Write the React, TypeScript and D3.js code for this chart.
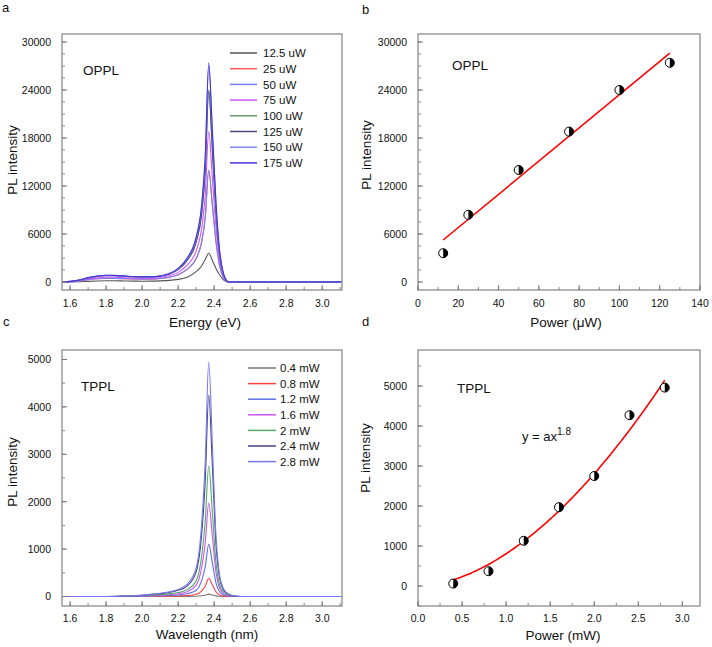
import React from 'react';
import * as d3 from 'd3';

// ---------- DATA ----------
// Panel a: OPPL spectra (energy grid in eV, intensity)
const ENERGY_A = [1.555, 1.6, 1.65, 1.7, 1.75, 1.8, 1.85, 1.9, 1.95, 2.0, 2.05, 2.1, 2.15, 2.2, 2.25, 2.3, 2.33, 2.35, 2.37, 2.39, 2.41, 2.43, 2.45, 2.47, 2.48, 3.11];
const OPPL_12_5 = [0, 10, 40, 80, 120, 150, 150, 130, 110, 100, 110, 140, 200, 330, 600, 1300, 2000, 2800, 3600, 2700, 1700, 900, 300, 40, 0, 0];
const OPPL_25 = [0, 40, 130, 290, 400, 450, 440, 410, 370, 350, 360, 430, 580, 900, 1570, 2900, 4900, 7900, 13900, 9600, 5050, 2030, 610, 80, 0, 0];
const OPPL_50 = [0, 40, 130, 290, 400, 460, 450, 420, 380, 360, 370, 440, 590, 920, 1600, 2950, 5000, 8000, 14000, 9700, 5100, 2050, 620, 80, 0, 0];
const OPPL_75 = [0, 50, 170, 380, 520, 600, 590, 540, 490, 470, 490, 570, 770, 1200, 2100, 3900, 6600, 10700, 18800, 13000, 6900, 2750, 820, 100, 0, 0];
const OPPL_100 = [0, 70, 230, 520, 720, 820, 800, 730, 660, 620, 630, 730, 990, 1560, 2720, 5020, 8450, 13800, 23900, 16500, 8700, 3450, 1040, 130, 0, 0];
const OPPL_125 = [0, 70, 220, 500, 700, 800, 780, 720, 650, 610, 620, 720, 980, 1550, 2700, 5000, 8400, 13700, 24000, 16600, 8800, 3500, 1050, 130, 0, 0];
const OPPL_150 = [0, 80, 240, 530, 730, 830, 810, 740, 660, 620, 630, 740, 1020, 1650, 2900, 5450, 9300, 15200, 27000, 18700, 9800, 3900, 1150, 140, 0, 0];
const OPPL_175 = [0, 80, 250, 550, 750, 850, 830, 760, 680, 640, 650, 760, 1050, 1700, 3000, 5600, 9500, 15500, 27400, 19000, 10000, 4000, 1200, 150, 0, 0];
const OPPL_LABELS = ['12.5 uW', '25 uW', '50 uW', '75 uW', '100 uW', '125 uW', '150 uW', '175 uW'];
const OPPL_SPECTRA = [OPPL_12_5, OPPL_25, OPPL_50, OPPL_75, OPPL_100, OPPL_125, OPPL_150, OPPL_175];

// Panel b: OPPL peak intensity vs power
const B_POWER = [12.5, 25, 50, 75, 100, 125];
const B_INTENSITY = [3600, 8400, 14000, 18800, 24000, 27400];
const B_FIT_X = [12.5, 125];
const B_FIT_Y = [5250, 28600];

// Panel c: TPPL spectra
const ENERGY_C = [1.555, 1.8, 1.9, 2.0, 2.05, 2.1, 2.15, 2.2, 2.25, 2.3, 2.33, 2.35, 2.37, 2.39, 2.41, 2.43, 2.45, 2.47, 2.5, 2.55, 3.11];
const TPPL_0_4 = [0, 0, 0, 0, 1, 1, 1, 2, 3, 6, 15, 28, 50, 32, 13, 5, 2, 1, 0, 0, 0];
const TPPL_0_8 = [0, 0, 1, 2, 4, 5, 8, 12, 20, 46, 115, 215, 380, 245, 100, 35, 14, 6, 2, 0, 0];
const TPPL_1_2 = [0, 0, 2, 7, 11, 16, 22, 33, 58, 133, 330, 620, 1100, 710, 290, 100, 40, 18, 4, 0, 0];
const TPPL_1_6 = [0, 0, 4, 12, 20, 28, 40, 60, 103, 240, 600, 1110, 1970, 1270, 520, 180, 72, 32, 8, 0, 0];
const TPPL_2_0 = [0, 0, 5, 17, 28, 39, 56, 83, 145, 330, 830, 1560, 2750, 1780, 720, 250, 100, 45, 11, 0, 0];
const TPPL_2_4 = [0, 0, 8, 25, 42, 60, 86, 130, 220, 520, 1290, 2400, 4250, 2750, 1120, 390, 155, 70, 17, 0, 0];
const TPPL_2_8 = [0, 0, 10, 30, 50, 70, 100, 150, 260, 600, 1500, 2800, 4950, 3200, 1300, 450, 180, 80, 20, 0, 0];
const TPPL_LABELS = ['0.4 mW', '0.8 mW', '1.2 mW', '1.6 mW', '2 mW', '2.4 mW', '2.8 mW'];
const TPPL_SPECTRA = [TPPL_0_4, TPPL_0_8, TPPL_1_2, TPPL_1_6, TPPL_2_0, TPPL_2_4, TPPL_2_8];

// Panel d: TPPL peak intensity vs power, power-law fit y = a x^1.8
const D_POWER = [0.4, 0.8, 1.2, 1.6, 2.0, 2.4, 2.8];
const D_INTENSITY = [60, 370, 1130, 1970, 2750, 4270, 4960];
const D_FIT_A = 806;
const D_FIT_EXP = 1.8;
const D_FIT_RANGE = [0.4, 2.8];

// Tick labels
const ENERGY_TICKS = [1.6, 1.8, 2.0, 2.2, 2.4, 2.6, 2.8, 3.0];
const OPPL_Y_TICKS = [0, 6000, 12000, 18000, 24000, 30000];
const B_X_TICKS = [0, 20, 40, 60, 80, 100, 120, 140];
const TPPL_Y_TICKS = [0, 1000, 2000, 3000, 4000, 5000];
const D_X_TICKS = [0.0, 0.5, 1.0, 1.5, 2.0, 2.5, 3.0];

// ---------- STYLE ----------
const FONT = '"Liberation Sans", Arial, Helvetica, sans-serif';
const OPPL_COLORS = ['#555555', '#ff5a5a', '#7080ff', '#cc55ff', '#6a9a6a', '#4a4a80', '#8585ee', '#4433dd'];
const TPPL_COLORS = ['#777777', '#ff4040', '#5a6ee8', '#cc55ee', '#55aa66', '#444488', '#7777ee'];

type Box = { x0: number; x1: number; y0: number; y1: number };

function Frame({ box, x, y, xMajor, xMinor, yMajor, yMinor, xFmt, yFmt, xLabelY, id, children }: any) {
  const b: Box = box;
  return (
    <g>
      <defs>
        <clipPath id={id}>
          <rect x={b.x0} y={b.y0} width={b.x1 - b.x0} height={b.y1 - b.y0} />
        </clipPath>
      </defs>
      <g clipPath={`url(#${id})`}>{children}</g>
      <rect x={b.x0} y={b.y0} width={b.x1 - b.x0} height={b.y1 - b.y0} fill="none" stroke="#9a9a9a" strokeWidth={1.5} />
      {xMinor.map((v: number, i: number) => (
        <line key={'xm' + i} x1={x(v)} x2={x(v)} y1={b.y1} y2={b.y1 - 3} stroke="#888" strokeWidth={1} />
      ))}
      {xMajor.map((v: number, i: number) => (
        <g key={'xM' + i}>
          <line x1={x(v)} x2={x(v)} y1={b.y1} y2={b.y1 - 5} stroke="#777" strokeWidth={1} />
          <text x={x(v)} y={xLabelY} textAnchor="middle" fontSize={10.5} fontFamily={FONT} fill="#111">{xFmt(v)}</text>
        </g>
      ))}
      {yMinor.map((v: number, i: number) => (
        <line key={'ym' + i} x1={b.x0} x2={b.x0 + 3} y1={y(v)} y2={y(v)} stroke="#888" strokeWidth={1} />
      ))}
      {yMajor.map((v: number, i: number) => (
        <g key={'yM' + i}>
          <line x1={b.x0} x2={b.x0 + 5} y1={y(v)} y2={y(v)} stroke="#777" strokeWidth={1} />
          <text x={b.x0 - 11} y={y(v) + 3.8} textAnchor="end" fontSize={10.5} fontFamily={FONT} fill="#111">{yFmt(v)}</text>
        </g>
      ))}
    </g>
  );
}

function HalfMarker({ cx, cy, r }: { cx: number; cy: number; r: number }) {
  return (
    <g>
      <circle cx={cx} cy={cy} r={r} fill="#fff" stroke="#000" strokeWidth={1} />
      <path d={`M${cx},${cy - r} A${r},${r} 0 0 1 ${cx},${cy + r} Z`} fill="#000" />
    </g>
  );
}

function Legend({ labels, colors, lx0, lx1, tx, y0, dy }: any) {
  return (
    <g>
      {labels.map((l: string, i: number) => (
        <g key={l}>
          <line x1={lx0} x2={lx1} y1={y0 + i * dy} y2={y0 + i * dy} stroke={colors[i]} strokeWidth={1.5} />
          <text x={tx} y={y0 + i * dy + 4.2} fontSize={11.5} fontFamily={FONT} fill="#111">{l}</text>
        </g>
      ))}
    </g>
  );
}

function Title({ x, y, children, rotate, size = 13.5 }: any) {
  return (
    <text
      x={x}
      y={y}
      textAnchor="middle"
      fontSize={size}
      fontFamily={FONT}
      fill="#111"
      transform={rotate ? `rotate(-90,${x},${y})` : undefined}
    >
      {children}
    </text>
  );
}

export default function App() {
  const boxA: Box = { x0: 62, x1: 342, y0: 34, y1: 290 };
  const boxB: Box = { x0: 418, x1: 700, y0: 34, y1: 290 };
  const boxC: Box = { x0: 62, x1: 342, y0: 350, y1: 606 };
  const boxD: Box = { x0: 418, x1: 700, y0: 350, y1: 606 };

  const xA = d3.scaleLinear().domain([1.555, 3.11]).range([boxA.x0, boxA.x1]);
  const yA = d3.scaleLinear().domain([-1000, 31000]).range([boxA.y1, boxA.y0]);
  const xB = d3.scaleLinear().domain([0, 140]).range([boxB.x0, boxB.x1]);
  const yB = d3.scaleLinear().domain([-1000, 31000]).range([boxB.y1, boxB.y0]);
  const xC = d3.scaleLinear().domain([1.555, 3.11]).range([boxC.x0, boxC.x1]);
  const yC = d3.scaleLinear().domain([-200, 5200]).range([boxC.y1, boxC.y0]);
  const xD = d3.scaleLinear().domain([0, 3.2]).range([boxD.x0, boxD.x1]);
  const yD = d3.scaleLinear().domain([-500, 5900]).range([boxD.y1, boxD.y0]);

  const energyMinor = d3.range(1.6, 3.101, 0.1);
  const fmt1 = (v: number) => v.toFixed(1);
  const fmt0 = (v: number) => String(v);

  const lineA = (vals: number[]) =>
    d3.line<number>().x((_, i) => xA(ENERGY_A[i])).y((v) => yA(v)).curve(d3.curveMonotoneX)(vals) || '';
  const lineC = (vals: number[]) =>
    d3.line<number>().x((_, i) => xC(ENERGY_C[i])).y((v) => yC(v)).curve(d3.curveMonotoneX)(vals) || '';

  const fitB = d3.line<number>().x((v) => xB(v)).y((_, i) => yB(B_FIT_Y[i]))(B_FIT_X) || '';
  const fitDX = d3.range(D_FIT_RANGE[0], D_FIT_RANGE[1] + 1e-9, 0.02);
  const fitD = d3.line<number>().x((v) => xD(v)).y((v) => yD(D_FIT_A * Math.pow(v, D_FIT_EXP))).curve(d3.curveMonotoneX)(fitDX) || '';

  return (
    <svg width={712} height={647} style={{ position: 'absolute', left: 0, top: 0, background: '#fff' }}>
      <rect x={0} y={0} width={712} height={647} fill="#fff" />

      {/* Panel a */}
      <Frame id="clipA" box={boxA} x={xA} y={yA} xMajor={ENERGY_TICKS} xMinor={energyMinor} xFmt={fmt1}
        yMajor={OPPL_Y_TICKS} yMinor={d3.range(-0, 31000, 1500)} yFmt={fmt0} xLabelY={307}>
        {OPPL_SPECTRA.map((s, i) => (
          <path key={i} d={lineA(s)} fill="none" stroke={OPPL_COLORS[i]} strokeWidth={1.1} />
        ))}
      </Frame>
      <Legend labels={OPPL_LABELS} colors={OPPL_COLORS} lx0={230} lx1={257} tx={263} y0={53} dy={15.7} />
      <Title x={101} y={75} size={13.5}>OPPL</Title>
      <Title x={205} y={327}>Energy (eV)</Title>
      <Title x={17} y={160} rotate>PL intensity</Title>
      <text x={2} y={12} fontSize={13} fontFamily={FONT} fill="#111">a</text>

      {/* Panel b */}
      <Frame id="clipB" box={boxB} x={xB} y={yB} xMajor={B_X_TICKS} xMinor={d3.range(0, 141, 10)} xFmt={fmt0}
        yMajor={OPPL_Y_TICKS} yMinor={d3.range(0, 31000, 1500)} yFmt={fmt0} xLabelY={307}>
        <path d={fitB} fill="none" stroke="#ff0000" strokeWidth={1.6} />
        {B_POWER.map((p, i) => (
          <HalfMarker key={i} cx={xB(p)} cy={yB(B_INTENSITY[i])} r={4.5} />
        ))}
      </Frame>
      <Title x={470} y={70}>OPPL</Title>
      <Title x={566} y={327}>Power (μW)</Title>
      <Title x={371} y={155} rotate>PL intensity</Title>
      <text x={362} y={14} fontSize={13} fontFamily={FONT} fill="#111">b</text>

      {/* Panel c */}
      <Frame id="clipC" box={boxC} x={xC} y={yC} xMajor={ENERGY_TICKS} xMinor={energyMinor} xFmt={fmt1}
        yMajor={TPPL_Y_TICKS} yMinor={d3.range(0, 5200, 500)} yFmt={fmt0} xLabelY={622}>
        {TPPL_SPECTRA.map((s, i) => (
          <path key={i} d={lineC(s)} fill="none" stroke={TPPL_COLORS[i]} strokeWidth={1.1} />
        ))}
      </Frame>
      <Legend labels={TPPL_LABELS} colors={TPPL_COLORS} lx0={248} lx1={276} tx={280} y0={368} dy={15.6} />
      <Title x={98} y={391}>TPPL</Title>
      <Title x={207} y={639}>Wavelength (nm)</Title>
      <Title x={17} y={472} rotate>PL intensity</Title>
      <text x={3} y={326} fontSize={13} fontFamily={FONT} fill="#111">c</text>

      {/* Panel d */}
      <Frame id="clipD" box={boxD} x={xD} y={yD} xMajor={D_X_TICKS} xMinor={d3.range(0, 3.21, 0.25)} xFmt={fmt1}
        yMajor={TPPL_Y_TICKS} yMinor={d3.range(-500, 5900, 500)} yFmt={fmt0} xLabelY={622}>
        <path d={fitD} fill="none" stroke="#ff0000" strokeWidth={1.6} />
        {D_POWER.map((p, i) => (
          <HalfMarker key={i} cx={xD(p)} cy={yD(D_INTENSITY[i])} r={4.5} />
        ))}
      </Frame>
      <Title x={474} y={393}>TPPL</Title>
      <text x={522} y={441} fontSize={13} fontFamily={FONT} fill="#111">
        y = ax<tspan fontSize={10} dy={-6}>1.8</tspan>
      </text>
      <Title x={563} y={640}>Power (mW)</Title>
      <Title x={370} y={458} rotate>PL intensity</Title>
      <text x={362} y={326} fontSize={13} fontFamily={FONT} fill="#111">d</text>
    </svg>
  );
}
